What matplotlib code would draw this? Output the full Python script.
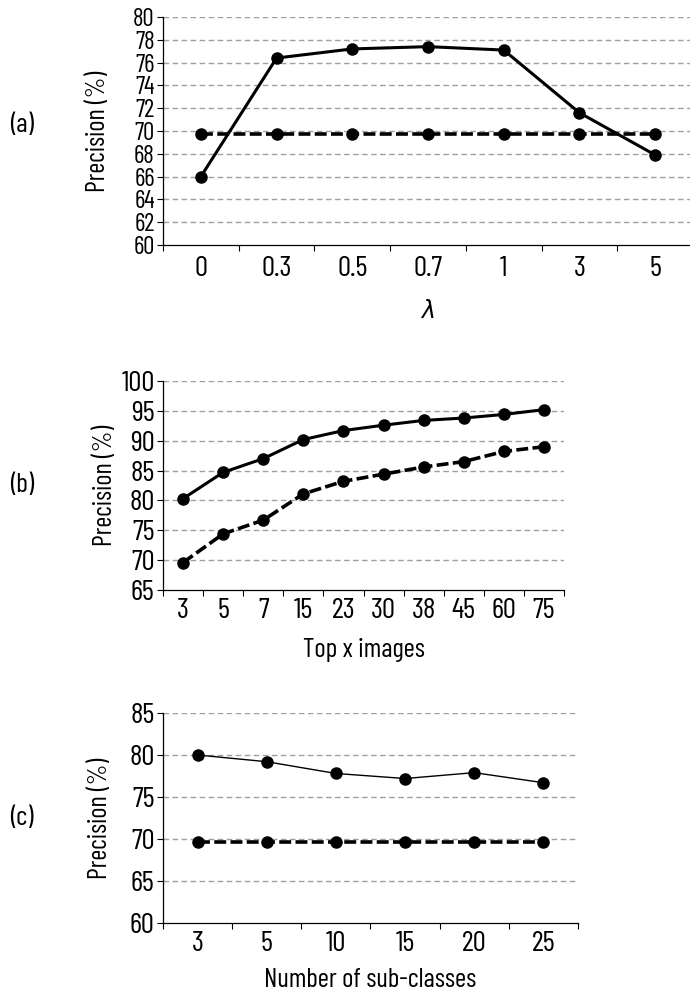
import numpy as np
import matplotlib
matplotlib.use("Agg")
import matplotlib.pyplot as plt
from matplotlib.transforms import blended_transform_factory as blend

plt.rcParams['font.family'] = ['Barlow Condensed', 'Liberation Sans Narrow', 'DejaVu Sans']

# (a) precision vs lambda
lam_labels = ["0", "0.3", "0.5", "0.7", "1", "3", "5"]
prec_a = [66.0, 76.4, 77.2, 77.4, 77.1, 71.6, 67.9]
base_a = [69.7, 69.7, 69.7, 69.7, 69.7, 69.7, 69.7]

# (b) precision vs top x images
top_labels = ["3", "5", "7", "15", "23", "30", "38", "45", "60", "75"]
prec_b = [80.3, 84.7, 87.0, 90.2, 91.7, 92.6, 93.4, 93.8, 94.4, 95.2]
base_b = [69.6, 74.4, 76.7, 81.1, 83.2, 84.4, 85.6, 86.5, 88.2, 89.0]

# (c) precision vs number of sub-classes
sub_labels = ["3", "5", "10", "15", "20", "25"]
prec_c = [80.0, 79.2, 77.8, 77.2, 77.9, 76.7]
base_c = [69.6, 69.6, 69.6, 69.6, 69.6, 69.6]

W, H = 690, 996
fig = plt.figure(figsize=(W / 100, H / 100), dpi=100)


def panel(px, labels, solid, dashed, ylim, ystep, xlabel, tag, ylab_x, xlab_y, tag_y,
          solid_lw=2.2, xpad=6, ysize=21, xlab_kw=None):
    # px = (left, top, right, bottom) in pixels
    l, t, r, b = px
    ax = fig.add_axes([l / W, 1 - b / H, (r - l) / W, (b - t) / H])
    x = np.arange(len(labels))
    ax.plot(x, solid, '-', color='black', lw=solid_lw, marker='o', ms=8, zorder=3)
    ax.plot(x, dashed, '--', color='black', lw=2.6, dashes=(3.3, 1.2), marker='o', ms=8, zorder=3)
    ax.set_xlim(-0.5, len(labels) - 0.5)
    ax.set_ylim(*ylim)
    yt = np.arange(ylim[0], ylim[1] + 0.1, ystep)
    ax.set_yticks(yt)
    ax.set_yticklabels([str(int(v)) for v in yt])
    for v in yt[1:]:
        ax.axhline(v, color='#a0a0a0', lw=1.0, ls=(0, (4, 2.5)), zorder=1)
    ax.set_xticks(x)
    ax.set_xticklabels(labels)
    ax.set_xticks(np.arange(len(labels) + 1) - 0.5, minor=True)
    ax.tick_params(axis='x', which='major', length=0, labelsize=21, pad=xpad)
    ax.tick_params(axis='x', which='minor', length=4.5, direction='out', width=0.8)
    ax.tick_params(axis='y', length=4.5, width=0.8, labelsize=ysize, pad=1.5)
    for s in ['top', 'right']:
        ax.spines[s].set_visible(False)
    for s in ['left', 'bottom']:
        ax.spines[s].set_linewidth(0.9)
    ax.set_ylabel("Precision (%)", fontsize=19)
    ax.yaxis.set_label_coords(ylab_x / W, 0.5, transform=blend(fig.transFigure, ax.transAxes))
    ax.yaxis.label.set_va('center')
    ax.set_xlabel(xlabel, **(xlab_kw or {'fontsize': 19.5}))
    ax.xaxis.set_label_coords(0.5, 1 - xlab_y / H, transform=blend(ax.transAxes, fig.transFigure))
    ax.xaxis.label.set_va('center')
    fig.text(22 / W, 1 - tag_y / H, tag, fontsize=20, ha='center', va='center')
    return ax


panel((163, 17, 693, 245), lam_labels, prec_a, base_a, (60, 80), 2,
      "λ", "(a)", ylab_x=98, xlab_y=311, tag_y=125, xpad=8, ysize=18,
      xlab_kw={'fontsize': 17, 'family': 'DejaVu Sans', 'style': 'italic'})
panel((163, 381, 564, 590), top_labels, prec_b, base_b, (65, 100), 5,
      "Top x images", "(b)", ylab_x=105, xlab_y=650, tag_y=485)
panel((163, 713, 578, 923), sub_labels, prec_c, base_c, (60, 85), 5,
      "Number of sub-classes", "(c)", ylab_x=100, xlab_y=980, tag_y=818, solid_lw=1.0)

fig.savefig("out.png", dpi=100)
